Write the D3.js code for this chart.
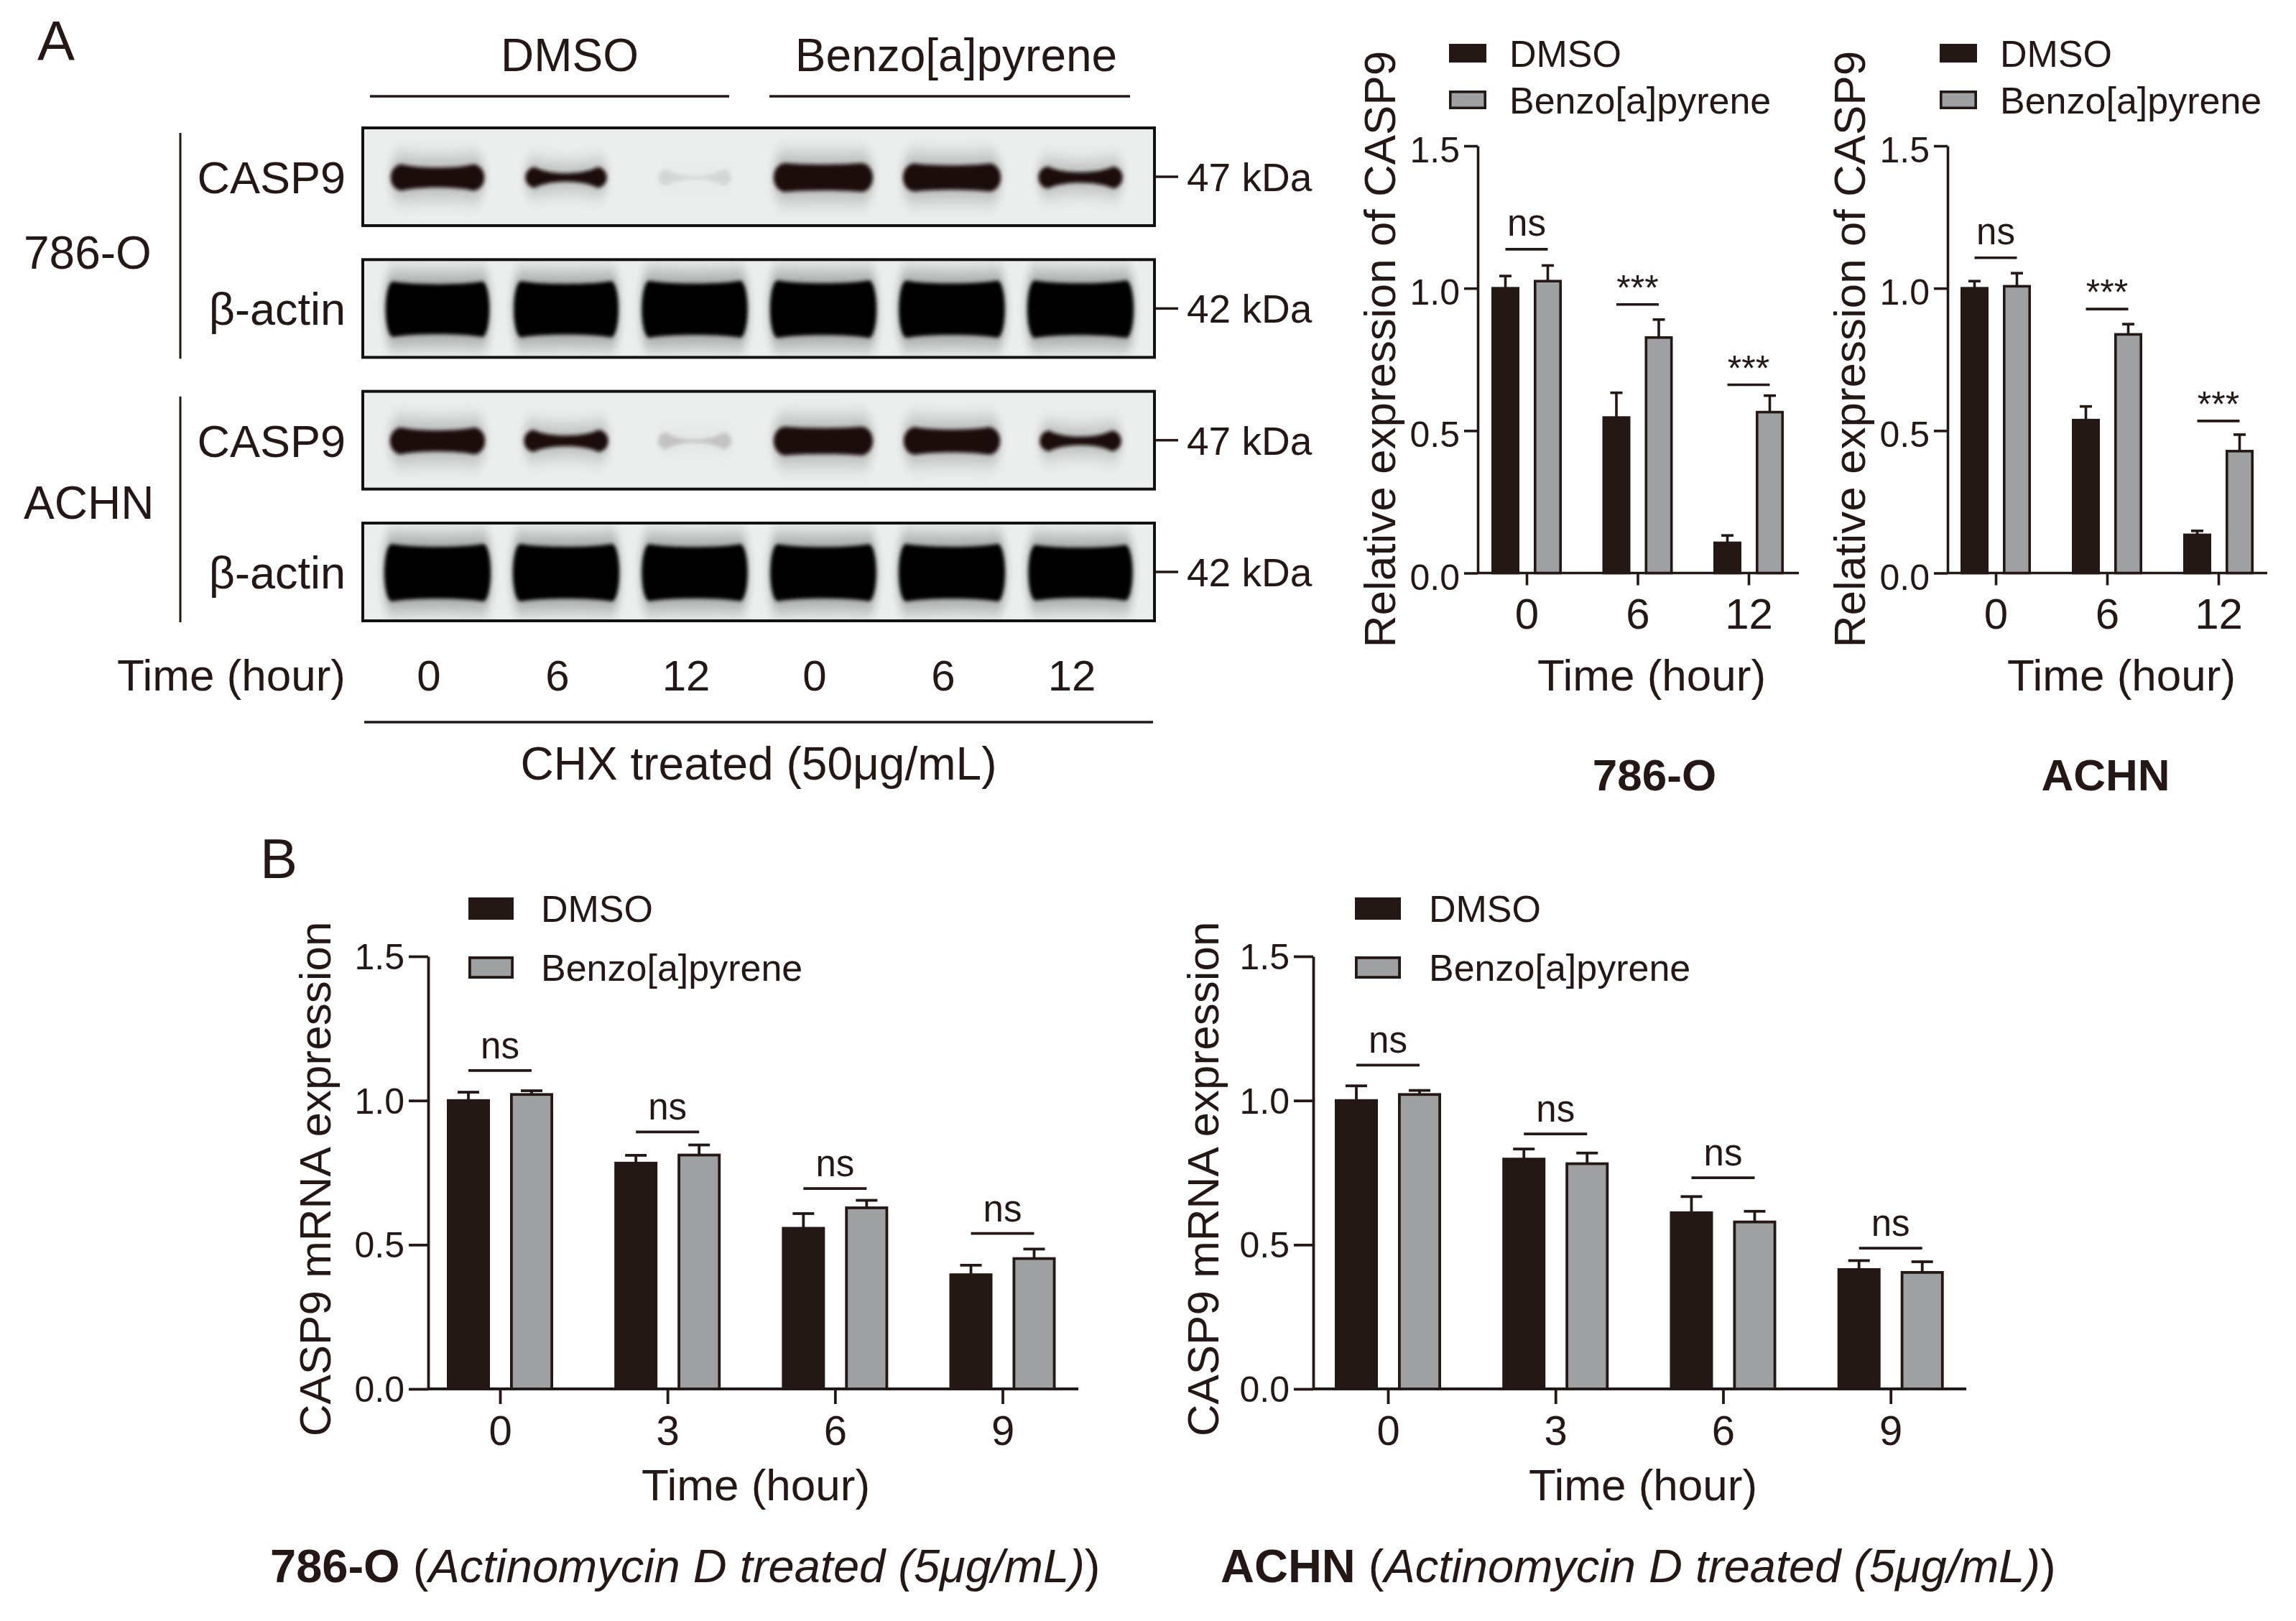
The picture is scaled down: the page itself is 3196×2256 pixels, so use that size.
<!DOCTYPE html>
<html>
<head>
<meta charset="utf-8">
<script src="https://cdn.jsdelivr.net/npm/d3@7"></script>
<style>
  html, body { margin: 0; padding: 0; background: #ffffff; }
  svg { display: block; }
  text { font-family: Arial, "Liberation Sans", "Helvetica", sans-serif; fill: #231815; }
</style>
</head>
<body>
<svg id="fig" width="3196" height="2256"></svg>
<script>
// ---------------- DATA ----------------
const treatments = ["DMSO", "Benzo[a]pyrene"];
const yTicks = [0, 0.5, 1.0, 1.5];

// Panel A – western blot
const wbLaneTimes = ["0", "6", "12", "0", "6", "12"];
const wbRowNames = ["CASP9", "β-actin", "CASP9", "β-actin"];
const wbRowKDa = ["47 kDa", "42 kDa", "47 kDa", "42 kDa"];
const wbRowProtein = ["casp9", "actin", "casp9", "actin"];
const wbCellLines = ["786-O", "ACHN"];
// relative band signal read from the blot (per lane)
const band786CASP9 = [0.80, 0.35, 0.04, 1.00, 0.95, 0.45];
const band786Actin = [0.88, 0.92, 0.97, 1.00, 0.98, 1.00];
const bandACHNCASP9 = [0.85, 0.45, 0.06, 1.00, 0.90, 0.35];
const bandACHNActin = [1.00, 1.00, 0.97, 0.98, 1.00, 0.90];

// Panel A – quantification
const timeA = ["0", "6", "12"];
const a786DMSO = [1.000, 0.546, 0.106];
const a786DMSOerr = [0.043, 0.087, 0.026];
const a786BaP = [1.025, 0.827, 0.565];
const a786BaPerr = [0.055, 0.063, 0.058];
const a786Sig = ["ns", "***", "***"];
const a786SigLevel = [1.137, 0.943, 0.661];

const aACHNDMSO = [1.000, 0.537, 0.134];
const aACHNDMSOerr = [0.025, 0.048, 0.014];
const aACHNBaP = [1.007, 0.838, 0.428];
const aACHNBaPerr = [0.046, 0.036, 0.058];
const aACHNSig = ["ns", "***", "***"];
const aACHNSigLevel = [1.107, 0.927, 0.534];

// Panel B – mRNA
const timeB = ["0", "3", "6", "9"];
const b786DMSO = [1.000, 0.783, 0.557, 0.396];
const b786DMSOerr = [0.029, 0.027, 0.051, 0.033];
const b786BaP = [1.021, 0.811, 0.628, 0.452];
const b786BaPerr = [0.013, 0.035, 0.026, 0.033];
const b786Sig = ["ns", "ns", "ns", "ns"];
const b786SigLevel = [1.104, 0.891, 0.695, 0.539];

const bACHNDMSO = [1.000, 0.797, 0.611, 0.414];
const bACHNDMSOerr = [0.051, 0.035, 0.056, 0.031];
const bACHNBaP = [1.021, 0.781, 0.579, 0.404];
const bACHNBaPerr = [0.014, 0.037, 0.037, 0.037];
const bACHNSig = ["ns", "ns", "ns", "ns"];
const bACHNSigLevel = [1.123, 0.884, 0.732, 0.488];

// ---------------- STYLE ----------------
const INK = "#231815";
const GREY = "#9fa0a1";
const BLOT_BG = "#eceeee";
const FONT = 'Arial, "Liberation Sans", Helvetica, sans-serif';

const svg = d3.select("#fig");
svg.append("rect").attr("width", 3196).attr("height", 2256).attr("fill", "#fff");

const defs = svg.append("defs");
defs.append("filter").attr("id", "blurCore").attr("x", "-30%").attr("y", "-80%").attr("width", "160%").attr("height", "260%")
  .append("feGaussianBlur").attr("stdDeviation", 2.4);
defs.append("filter").attr("id", "blurHalo").attr("x", "-50%").attr("y", "-150%").attr("width", "200%").attr("height", "400%")
  .append("feGaussianBlur").attr("stdDeviation", "6 13");

function txt(g, x, y, s, size, opts = {}) {
  const t = g.append("text").attr("x", x).attr("y", y).text(s)
    .attr("font-size", size).attr("font-family", FONT).attr("fill", INK);
  if (opts.anchor) t.attr("text-anchor", opts.anchor);
  if (opts.weight) t.attr("font-weight", opts.weight);
  if (opts.style) t.attr("font-style", opts.style);
  return t;
}

// ---------------- PANEL A : BLOT ----------------
const gA = svg.append("g");
txt(gA, 52, 84, "A", 78);

const blotX0 = 505, blotX1 = 1607;
const rowScale = d3.scaleBand().domain(d3.range(4)).range([178, 864]).paddingInner(0.258);
const laneScale = d3.scaleBand().domain(d3.range(6)).range([519.5, 1593.5]);
const bandData = [band786CASP9, band786Actin, bandACHNCASP9, bandACHNActin];

// header groups
const groupCenters = [793, 1331];
const groupLines = [[515, 1015], [1071, 1573]];
treatments.forEach((t, i) => {
  txt(gA, groupCenters[i], 99, t, 64, { anchor: "middle" });
  gA.append("line").attr("x1", groupLines[i][0]).attr("x2", groupLines[i][1])
    .attr("y1", 134).attr("y2", 134).attr("stroke", INK).attr("stroke-width", 3.5);
});

// band outline: thick ends, pinched (thinner) middle
function bandPath(cx, cy, w, h, pinch, rFrac) {
  const hw = w / 2, hh = h / 2, r = Math.min(hh, w * rFrac);
  const x0 = cx - hw + r, x1 = cx + hw - r;
  const top = cy - hh, bot = cy + hh;
  const midTop = cy - hh * (1 - pinch), midBot = cy + hh * (1 - pinch);
  const cT = (8 * midTop - 2 * top) / 6, cB = (8 * midBot - 2 * bot) / 6;
  const k = (x1 - x0) * 0.22;
  return `M${x0},${top} C${x0 + k},${cT} ${x1 - k},${cT} ${x1},${top} ` +
    `A${r},${hh} 0 0 1 ${x1},${bot} ` +
    `C${x1 - k},${cB} ${x0 + k},${cB} ${x0},${bot} ` +
    `A${r},${hh} 0 0 1 ${x0},${top} Z`;
}

const casp9W = d3.scaleLinear().domain([0, 1]).range([100, 138]);
const casp9H = d3.scaleLinear().domain([0, 1]).range([22, 40]);
const casp9Pinch = d3.scaleLinear().domain([0, 1]).range([0.85, 0.1]).clamp(true);
const casp9Op = d3.scaleLinear().domain([0.04, 0.3]).range([0.09, 1]).clamp(true);
const actinW = d3.scaleLinear().domain([0, 1]).range([118, 148]);
const actinH = d3.scaleLinear().domain([0, 1]).range([56, 80]);

wbRowNames.forEach((name, r) => {
  const y0 = rowScale(r), h = rowScale.bandwidth(), cy = y0 + h / 2;
  const rowG = gA.append("g");
  const clipId = "clip" + r;
  defs.append("clipPath").attr("id", clipId).append("rect")
    .attr("x", blotX0).attr("y", y0).attr("width", blotX1 - blotX0).attr("height", h);
  rowG.append("rect").attr("x", blotX0).attr("y", y0).attr("width", blotX1 - blotX0).attr("height", h)
    .attr("fill", BLOT_BG);
  const bands = rowG.append("g").attr("clip-path", `url(#${clipId})`);
  bandData[r].forEach((I, l) => {
    const cx = laneScale(l) + laneScale.bandwidth() / 2;
    const isC = wbRowProtein[r] === "casp9";
    let w, bh, p, op, col, rf;
    if (isC) {
      w = casp9W(I); bh = casp9H(I); p = casp9Pinch(I); op = casp9Op(I); col = "#1e0f0c"; rf = 0.12;
    } else {
      w = actinW(I); bh = actinH(I); p = 0.1; op = 1; col = "#000"; rf = 0.07;
    }
    const bcy = cy + 1;
    bands.append("path").attr("d", bandPath(cx, bcy, w * 1.02, bh * (isC ? 1.7 : 1.35), p * 0.4, rf))
      .attr("fill", "#000").attr("opacity", (isC ? 0.22 : 0.3) * op).attr("filter", "url(#blurHalo)");
    bands.append("path").attr("d", bandPath(cx, bcy, w, bh, p, rf))
      .attr("fill", col).attr("opacity", op).attr("filter", "url(#blurCore)");
  });
  rowG.append("rect").attr("x", blotX0).attr("y", y0).attr("width", blotX1 - blotX0).attr("height", h)
    .attr("fill", "none").attr("stroke", "#111").attr("stroke-width", 4);
  // labels
  txt(gA, 481, cy + 23, name, 63, { anchor: "end" });
  gA.append("line").attr("x1", 1609).attr("x2", 1640).attr("y1", cy).attr("y2", cy)
    .attr("stroke", INK).attr("stroke-width", 3.5);
  txt(gA, 1652, cy + 20, wbRowKDa[r], 55);
});

// cell line brackets
wbCellLines.forEach((c, i) => {
  const top = rowScale(i * 2) + 7, bot = rowScale(i * 2 + 1) + rowScale.bandwidth() + 2;
  gA.append("line").attr("x1", 251).attr("x2", 251).attr("y1", top).attr("y2", bot)
    .attr("stroke", INK).attr("stroke-width", 3);
  txt(gA, 33, i === 0 ? 374 : 722, c, 64);
});

// lane times
txt(gA, 481, 961, "Time (hour)", 62, { anchor: "end" });
wbLaneTimes.forEach((t, l) => {
  txt(gA, laneScale(l) + laneScale.bandwidth() / 2 - 12, 961, t, 60, { anchor: "middle" });
});
gA.append("line").attr("x1", 507).attr("x2", 1605).attr("y1", 1005).attr("y2", 1005)
  .attr("stroke", INK).attr("stroke-width", 3.5);
txt(gA, 1056, 1085, "CHX treated (50μg/mL)", 64, { anchor: "middle" });

// ---------------- BAR CHART ----------------
function barChart(o) {
  const g = svg.append("g");
  const y = d3.scaleLinear().domain([0, 1.5]).range([o.yBottom, o.yTop]);
  const x = d3.scalePoint().domain(o.cats).range([o.cFirst, o.cLast]);
  const sub = d3.scalePoint().domain(treatments).range([-o.off, o.off]);
  const series = [
    { t: treatments[0], v: o.dm, e: o.dmErr, fill: INK },
    { t: treatments[1], v: o.bp, e: o.bpErr, fill: GREY }
  ];
  const sw = o.sw;

  // y axis
  const ya = g.append("g").attr("transform", `translate(${o.x0},0)`)
    .call(d3.axisLeft(y).tickValues(yTicks).tickFormat(d3.format(".1f")).tickSize(o.yTick).tickSizeOuter(0).tickPadding(6));
  ya.select(".domain").attr("stroke", INK).attr("stroke-width", sw);
  ya.selectAll(".tick line").attr("stroke", INK).attr("stroke-width", sw);
  ya.selectAll(".tick text").attr("font-size", o.tickFont).attr("font-family", FONT).attr("fill", INK).attr("dy", o.tickDy);

  // x axis
  const xa = g.append("g").attr("transform", `translate(0,${o.yBottom})`)
    .call(d3.axisBottom(x).tickSize(o.xTick).tickSizeOuter(0).tickPadding(0));
  xa.select(".domain").attr("d", `M${o.x0},0H${o.x1}`).attr("stroke", INK).attr("stroke-width", sw);
  xa.selectAll(".tick line").attr("stroke", INK).attr("stroke-width", sw);
  xa.selectAll(".tick text").attr("font-size", o.xTickFont).attr("font-family", FONT).attr("fill", INK)
    .attr("y", o.xTickBase).attr("dy", 0);

  // error bars + bars
  series.forEach(s => {
    const sg = g.append("g");
    s.v.forEach((v, i) => {
      const cx = x(o.cats[i]) + sub(s.t);
      sg.append("line").attr("x1", cx).attr("x2", cx).attr("y1", y(v)).attr("y2", y(v + s.e[i]))
        .attr("stroke", INK).attr("stroke-width", sw);
      sg.append("line").attr("x1", cx - o.capW / 2).attr("x2", cx + o.capW / 2)
        .attr("y1", y(v + s.e[i])).attr("y2", y(v + s.e[i]))
        .attr("stroke", INK).attr("stroke-width", sw);
    });
    sg.selectAll("rect").data(s.v).join("rect")
      .attr("x", (d, i) => x(o.cats[i]) + sub(s.t) - o.barW / 2 + sw / 2)
      .attr("y", d => y(d))
      .attr("width", o.barW - sw)
      .attr("height", d => y(0) - y(d))
      .attr("fill", s.fill).attr("stroke", INK).attr("stroke-width", sw);
  });

  // significance
  o.sig.forEach((s, i) => {
    const x1 = x(o.cats[i]) + sub(treatments[0]), x2 = x(o.cats[i]) + sub(treatments[1]);
    const ly = y(o.sigLevel[i]);
    g.append("line").attr("x1", x1).attr("x2", x2).attr("y1", ly).attr("y2", ly)
      .attr("stroke", INK).attr("stroke-width", sw);
    const isStar = s.indexOf("*") >= 0;
    txt(g, (x1 + x2) / 2, isStar ? ly - 6 : ly - o.nsGap, s, isStar ? 50 : 51, { anchor: "middle" });
  });

  // axis titles
  txt(g, 0, 0, o.yTitle, o.yTitleFont, { anchor: "middle" })
    .attr("transform", `translate(${o.yTitleX},${o.yTitleY}) rotate(-90)`);
  txt(g, o.xTitleX, o.xTitleY, "Time (hour)", 62, { anchor: "middle" });

  // legend
  const L = o.legend;
  series.forEach((s, i) => {
    const ly = L.y[i];
    g.append("rect").attr("x", L.x + sw / 2).attr("y", ly + sw / 2).attr("width", L.w - sw).attr("height", L.h - sw)
      .attr("fill", s.fill).attr("stroke", INK).attr("stroke-width", sw);
    txt(g, L.tx, ly + L.h / 2 + L.font * 0.36, s.t, L.font);
  });
  return g;
}

const topCommon = {
  cats: timeA, yBottom: 797.5, yTop: 203, off: 29.5, barW: 39, capW: 17, sw: 3.6,
  yTick: 19, xTick: 17, tickFont: 50, tickDy: "0.45em", xTickFont: 60, xTickBase: 77, nsGap: 19,
  yTitle: "Relative expression of CASP9", yTitleFont: 62, yTitleY: 486, xTitleY: 961
};
barChart(Object.assign({}, topCommon, {
  x0: 2057, x1: 2504, cFirst: 2125, cLast: 2434,
  dm: a786DMSO, dmErr: a786DMSOerr, bp: a786BaP, bpErr: a786BaPerr, sig: a786Sig, sigLevel: a786SigLevel,
  yTitleX: 1942, xTitleX: 2299,
  legend: { x: 2017, w: 52, h: 26, y: [61, 126], tx: 2101, font: 52 }
}));
barChart(Object.assign({}, topCommon, {
  x0: 2711, x1: 3156, cFirst: 2778, cLast: 3088,
  dm: aACHNDMSO, dmErr: aACHNDMSOerr, bp: aACHNBaP, bpErr: aACHNBaPerr, sig: aACHNSig, sigLevel: aACHNSigLevel,
  yTitleX: 2596, xTitleX: 2953,
  legend: { x: 2700, w: 52, h: 26, y: [61, 126], tx: 2784, font: 52 }
}));
txt(svg, 2303, 1100, "786-O", 62, { anchor: "middle", weight: "bold" });
txt(svg, 2931, 1100, "ACHN", 62, { anchor: "middle", weight: "bold" });

// ---------------- PANEL B ----------------
txt(svg, 362, 1222, "B", 78);
const botCommon = {
  cats: timeB, yBottom: 1933, yTop: 1331, off: 44, barW: 60, capW: 30, sw: 3.8,
  yTick: 27, xTick: 21, tickFont: 50, tickDy: "0.35em", xTickFont: 58, xTickBase: 78, nsGap: 17,
  yTitle: "CASP9 mRNA expression", yTitleFont: 62, yTitleY: 1641, xTitleY: 2088
};
barChart(Object.assign({}, botCommon, {
  x0: 596, x1: 1501, cFirst: 696, cLast: 1395.5,
  dm: b786DMSO, dmErr: b786DMSOerr, bp: b786BaP, bpErr: b786BaPerr, sig: b786Sig, sigLevel: b786SigLevel,
  yTitleX: 460, xTitleX: 1052,
  legend: { x: 652, w: 63, h: 31, y: [1249, 1331], tx: 753, font: 52 }
}));
barChart(Object.assign({}, botCommon, {
  x0: 1828, x1: 2737, cFirst: 1932, cLast: 2631.7,
  dm: bACHNDMSO, dmErr: bACHNDMSOerr, bp: bACHNBaP, bpErr: bACHNBaPerr, sig: bACHNSig, sigLevel: bACHNSigLevel,
  yTitleX: 1696, xTitleX: 2287,
  legend: { x: 1886, w: 64, h: 31, y: [1249, 1331], tx: 1989, font: 52 }
}));

// captions
function caption(x, cell) {
  const t = svg.append("text").attr("x", x).attr("y", 2202).attr("font-size", 65)
    .attr("font-family", FONT).attr("fill", INK);
  t.append("tspan").attr("font-weight", "bold").text(cell);
  t.append("tspan").text(" (");
  t.append("tspan").attr("font-style", "italic").text("Actinomycin D treated (5μg/mL)");
  t.append("tspan").text(")");
}
caption(376, "786-O");
caption(1699, "ACHN");
</script>
</body>
</html>
